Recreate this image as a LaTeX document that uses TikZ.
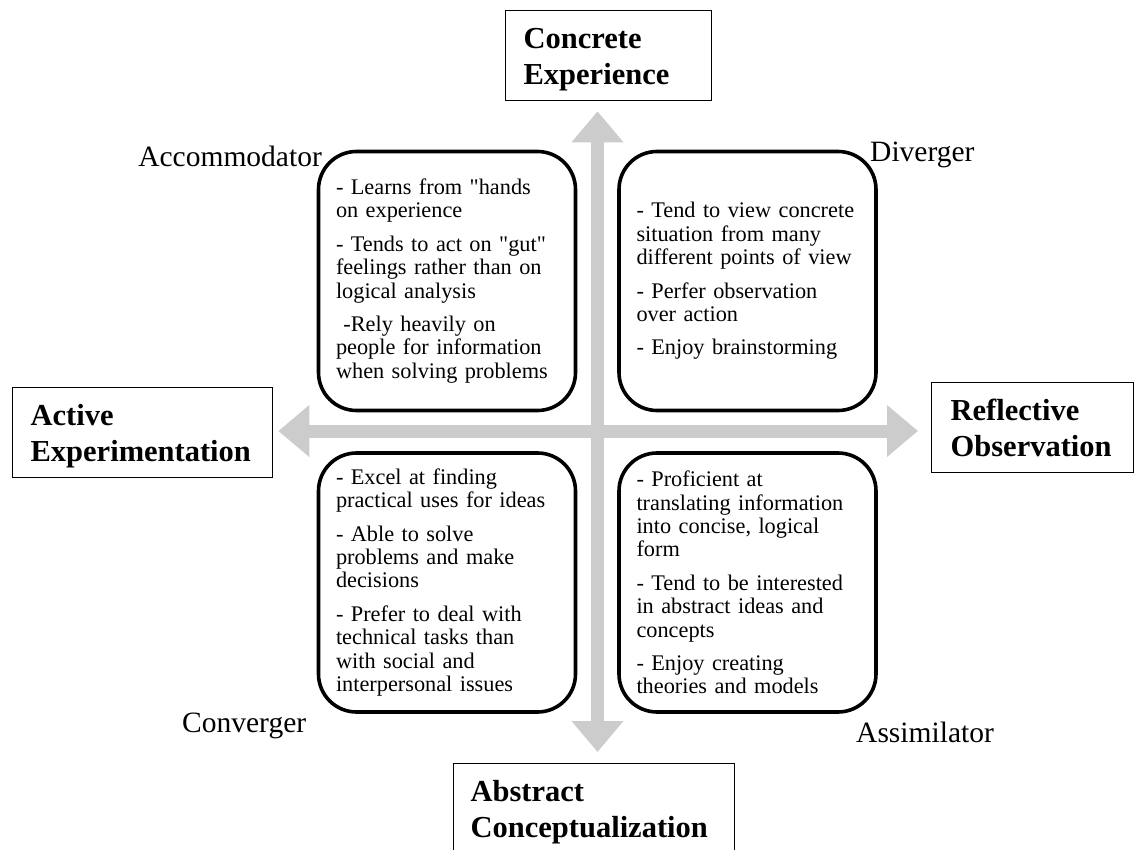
\documentclass[tikz,border=0pt]{standalone}
\usepackage{fontspec}
\setmainfont{Liberation Serif}[Ligatures=TeXOff]
\usetikzlibrary{arrows.meta}
\definecolor{arrowgray}{RGB}{204,204,204}
\newcommand\kolbtop{\rule{0pt}{28pt}}
\newcommand\kolbbot{\rule[-6.6pt]{0pt}{6.6pt}}
\begin{document}
\begin{tikzpicture}[x=1pt,y=-1pt,
  quad/.style={draw, line width=3.6pt, rounded corners=38pt,
    minimum width=257pt, minimum height=259pt, text width=222pt,
    inner xsep=17.5pt, inner ysep=0pt, align=left,
    font=\fontsize{22.3}{23.4}\selectfont},
  pole/.style={draw, line width=1.3pt, anchor=north west, minimum height=90pt,
    inner ysep=0pt, align=left, font=\fontsize{30.5}{35.5}\selectfont\bfseries},
  stylelabel/.style={inner sep=0pt, font=\fontsize{29.5}{32}\selectfont},
  bigarrow/.style={draw=arrowgray, line width=13pt,
    -{Triangle[width=50pt,length=31pt]}}
]
\useasboundingbox (0,0) rectangle (1138,850);

% poles
\node[pole, text width=170pt, inner xsep=18pt] (ce) at (505,10)
  {\kolbtop Concrete\\Experience\kolbbot};
\node[pole, text width=224pt, inner xsep=18pt] (ae) at (12,387)
  {\kolbtop Active\\Experimentation\kolbbot};
\node[pole, text width=164pt, inner xsep=19pt] (ro) at (931,382)
  {\kolbtop Reflective\\Observation\kolbbot};
\node[pole, text width=247pt, inner xsep=17pt] (ac) at (453,763)
  {\kolbtop Abstract\\Conceptualization\kolbbot};

% centre of the cross
\coordinate (c) at (597.5,431);

% arrows
\draw[bigarrow, shorten >=10pt] (c) -- (c |- ce.south);
\draw[bigarrow, shorten >=5pt] (c) -- (c -| ae.east);
\draw[bigarrow, shorten >=13pt] (c) -- (c -| ro.west);
\draw[bigarrow, shorten >=11pt] (c) -- (c |- ac.north);

% quadrant boxes
\node[quad] (tl) at (447,281)
  {- Learns from "hands\\on experience\\[10pt]
   - Tends to act on "gut"\\feelings rather than on\\logical analysis\\[10pt]
   \ -Rely heavily on\\people for information\\when solving problems};
\node[quad] (tr) at (747.5,281)
  {- Tend to view concrete\\situation from many\\different points of view\\[10pt]
   - Perfer observation\\over action\\[10pt]
   - Enjoy brainstorming};
\node[quad] (bl) at (447,582.5)
  {- Excel at finding\\practical uses for ideas\\[10pt]
   - Able to solve\\problems and make\\decisions\\[10pt]
   - Prefer to deal with\\technical tasks than\\with social and\\interpersonal issues};
\node[quad] (br) at (747.5,582.5)
  {- Proficient at\\translating information\\into concise, logical\\form\\[10pt]
   - Tend to be interested\\in abstract ideas and\\concepts\\[10pt]
   - Enjoy creating\\theories and models};

% learning style labels
\node[stylelabel, anchor=base east] (accom) at (322,167) {Accommodator};
\node[stylelabel, anchor=base west] (diver) at (870,162) {Diverger};
\node[stylelabel, anchor=base west] (conv) at (182,732) {Converger};
\node[stylelabel, anchor=base west] (assim) at (856,742) {Assimilator};
\end{tikzpicture}
\end{document}
